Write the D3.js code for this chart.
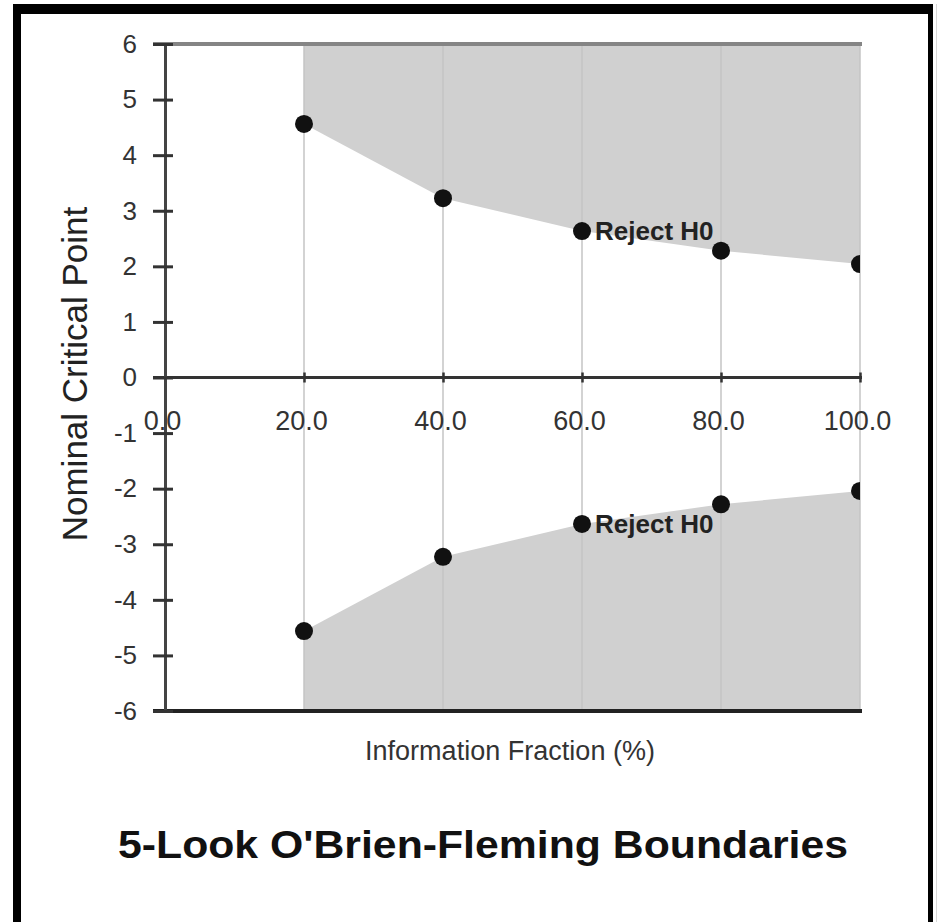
<!DOCTYPE html>
<html>
<head>
<meta charset="utf-8">
<script src="https://cdn.jsdelivr.net/npm/d3@7/dist/d3.min.js"></script>
<style>
  html, body { margin: 0; padding: 0; background: #fff; }
  svg { display: block; }
  text { font-family: "Liberation Sans", Arial, sans-serif; }
</style>
</head>
<body>
<svg id="chart" width="939" height="922"></svg>
<script>
// ---- data ----
const infoFraction = [20, 40, 60, 80, 100];
const upperBound = [4.562, 3.226, 2.634, 2.281, 2.040];
const lowerBound = [-4.562, -3.226, -2.634, -2.281, -2.040];
const xTickValues = [0, 20, 40, 60, 80, 100];
const yTickValues = [6, 5, 4, 3, 2, 1, 0, -1, -2, -3, -4, -5, -6];
const rejectLabel = "Reject H0";
const rejectLabelAt = 60;
const title = "5-Look O'Brien-Fleming Boundaries";
const xLabel = "Information Fraction (%)";
const yLabel = "Nominal Critical Point";

// ---- layout ----
const svg = d3.select("#chart");
const x = d3.scaleLinear().domain([0, 100]).range([165, 860]);
const y = d3.scaleLinear().domain([-6, 6]).range([711, 44]);

// frame
svg.append("line").attr("x1", 17).attr("x2", 17).attr("y1", 4).attr("y2", 930)
  .attr("stroke", "#000").attr("stroke-width", 8);
svg.append("line").attr("x1", 13).attr("x2", 932).attr("y1", 9).attr("y2", 9)
  .attr("stroke", "#000").attr("stroke-width", 10);
svg.append("line").attr("x1", 930.5).attr("x2", 930.5).attr("y1", 4).attr("y2", 930)
  .attr("stroke", "#000").attr("stroke-width", 5);
svg.append("line").attr("x1", 936.5).attr("x2", 936.5).attr("y1", 4).attr("y2", 930)
  .attr("stroke", "#d8d8d8").attr("stroke-width", 1);

// rejection regions
const upperPts = infoFraction.map((f, i) => [f, upperBound[i]]);
const lowerPts = infoFraction.map((f, i) => [f, lowerBound[i]]);
const area = d3.area().x(d => x(d[0]));
svg.append("path")
  .datum(upperPts)
  .attr("d", area.y0(y(6)).y1(d => y(d[1]))(upperPts))
  .attr("fill", "#d0d0d0");
svg.append("path")
  .datum(lowerPts)
  .attr("d", d3.area().x(d => x(d[0])).y0(y(-6)).y1(d => y(d[1]))(lowerPts))
  .attr("fill", "#d0d0d0");

// vertical gridlines
svg.append("g").selectAll("line").data(infoFraction).join("line")
  .attr("x1", d => x(d)).attr("x2", d => x(d))
  .attr("y1", y(6)).attr("y2", y(-6))
  .attr("stroke", "#c4c4c4").attr("stroke-width", 1.5);

// top and bottom border lines of plot
svg.append("line").attr("x1", x(0) - 12).attr("x2", x(100) + 2)
  .attr("y1", y(6)).attr("y2", y(6))
  .attr("stroke", "#858585").attr("stroke-width", 4);
svg.append("line").attr("x1", x(0) - 12).attr("x2", x(100) + 2)
  .attr("y1", y(-6)).attr("y2", y(-6))
  .attr("stroke", "#222").attr("stroke-width", 4);

// x axis at zero
svg.append("line").attr("x1", x(0) - 12).attr("x2", x(100) + 2)
  .attr("y1", y(0)).attr("y2", y(0))
  .attr("stroke", "#333").attr("stroke-width", 3);
const xAxis = svg.append("g")
  .attr("transform", `translate(0,${y(0)})`)
  .call(d3.axisBottom(x).tickValues(xTickValues).tickSizeInner(5).tickSizeOuter(0)
    .tickFormat(d3.format(".1f")));
xAxis.select(".domain").remove();
xAxis.selectAll(".tick line").attr("y1", -5).attr("stroke", "#333").attr("stroke-width", 2.5);
xAxis.selectAll(".tick text")
  .attr("y", 52).attr("dy", 0).attr("dx", -3)
  .attr("font-size", 27).attr("fill", "#333")
  .style("font-family", "'Liberation Sans', Arial, sans-serif");

// y axis
const yAxis = svg.append("g")
  .attr("transform", `translate(${x(0)},0)`)
  .call(d3.axisLeft(y).tickValues(yTickValues).tickSizeInner(12).tickSizeOuter(0)
    .tickPadding(16).tickFormat(d => String(d)));
yAxis.select(".domain").attr("stroke", "#444").attr("stroke-width", 3);
yAxis.selectAll(".tick line").attr("x1", 8).attr("stroke", "#333").attr("stroke-width", 3);
yAxis.selectAll(".tick text")
  .attr("font-size", 26).attr("fill", "#333")
  .style("font-family", "'Liberation Sans', Arial, sans-serif");

// markers, clipped to the plot area
svg.append("clipPath").attr("id", "plotClip")
  .append("rect").attr("x", x(0)).attr("y", y(6) - 20)
  .attr("width", x(100) - x(0)).attr("height", y(-6) - y(6) + 40);
const marks = svg.append("g").attr("clip-path", "url(#plotClip)");
marks.selectAll("circle.up").data(upperPts).join("circle").attr("class", "up")
  .attr("cx", d => x(d[0])).attr("cy", d => y(d[1])).attr("r", 9).attr("fill", "#111");
marks.selectAll("circle.lo").data(lowerPts).join("circle").attr("class", "lo")
  .attr("cx", d => x(d[0])).attr("cy", d => y(d[1])).attr("r", 9).attr("fill", "#111");

// reject labels
const li = infoFraction.indexOf(rejectLabelAt);
[upperBound[li], lowerBound[li]].forEach(v => {
  svg.append("text")
    .attr("x", x(rejectLabelAt) + 13).attr("y", y(v))
    .attr("dy", "0.36em")
    .attr("font-size", 26).attr("font-weight", "bold").attr("fill", "#222")
    .text(rejectLabel);
});

// axis labels
svg.append("text")
  .attr("x", 510).attr("y", 760)
  .attr("text-anchor", "middle")
  .attr("font-size", 27).attr("fill", "#333")
  .attr("textLength", 290).attr("lengthAdjust", "spacingAndGlyphs")
  .text(xLabel);
svg.append("text")
  .attr("transform", "translate(87,374) rotate(-90)")
  .attr("text-anchor", "middle")
  .attr("font-size", 35).attr("fill", "#222")
  .text(yLabel);

// title
svg.append("text")
  .attr("x", 483).attr("y", 858)
  .attr("text-anchor", "middle")
  .attr("font-size", 38).attr("font-weight", "bold").attr("fill", "#111")
  .attr("textLength", 730).attr("lengthAdjust", "spacingAndGlyphs")
  .text(title);
</script>
</body>
</html>
